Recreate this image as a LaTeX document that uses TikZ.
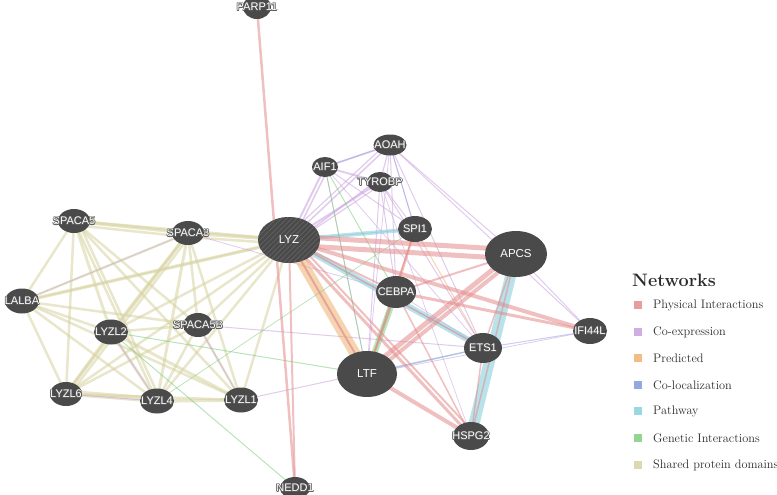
\documentclass[tikz,border=0pt]{standalone}
\usepackage{fontspec}
\newfontfamily\labfont{Liberation Sans}
\usetikzlibrary{shapes.geometric,backgrounds,patterns.meta}
\definecolor{nodefill}{HTML}{4A4A4A}
\definecolor{haloc}{HTML}{5C5C5C}
\definecolor{cphys}{HTML}{E48C8C}
\definecolor{ccoex}{HTML}{C8A0DC}
\definecolor{cpred}{HTML}{F0B070}
\definecolor{ccoloc}{HTML}{8098DC}
\definecolor{cpath}{HTML}{88D0DC}
\definecolor{cgen}{HTML}{80CC80}
\definecolor{cshared}{HTML}{D6D2A0}
\definecolor{legtxt}{HTML}{2A2A2A}
\newcommand\halotxt[1]{%
  \makebox[0pt]{%
    \rlap{\color{haloc}\kern-0.7pt#1}%
    \rlap{\color{haloc}\kern0.7pt#1}%
    \rlap{\color{haloc}\raisebox{0.7pt}{#1}}%
    \rlap{\color{haloc}\raisebox{-0.7pt}{#1}}%
    \rlap{\color{haloc}\kern-0.5pt\raisebox{0.5pt}{#1}}%
    \rlap{\color{haloc}\kern0.5pt\raisebox{0.5pt}{#1}}%
    \rlap{\color{haloc}\kern-0.5pt\raisebox{-0.5pt}{#1}}%
    \rlap{\color{haloc}\kern0.5pt\raisebox{-0.5pt}{#1}}%
    \color{white}#1}}
\newcommand\plaintxt[1]{\makebox[0pt]{#1}}
\tikzset{
  gnode/.style={ellipse, fill=nodefill, inner sep=0pt, text=white,
    font=\labfont\fontsize{11}{11}\selectfont},
  bignode/.style={gnode, font=\labfont\fontsize{11.5}{11.5}\selectfont},
  phys/.style={draw=cphys, draw opacity=0.55},
  coex/.style={draw=ccoex, draw opacity=0.55},
  pred/.style={draw=cpred, draw opacity=0.55},
  coloc/.style={draw=ccoloc, draw opacity=0.45},
  pathw/.style={draw=cpath, draw opacity=0.6},
  gen/.style={draw=cgen, draw opacity=0.55},
  shared/.style={draw=cshared, draw opacity=0.55},
  swatch/.style={minimum size=8pt, inner sep=0pt},
  legtext/.style={anchor=west, inner sep=0pt, text=legtxt, font=\fontsize{12.3}{13}\selectfont},
}
\begin{document}
\begin{tikzpicture}[x=1pt,y=-1pt]
\useasboundingbox (0,0) rectangle (777,495);
% nodes
\node[gnode, minimum width=28pt, minimum height=24pt] (PARP11) at (257,7) {\halotxt{PARP11}};
\node[gnode, minimum width=33pt, minimum height=21pt] (AOAH) at (390,145) {\halotxt{AOAH}};
\node[gnode, minimum width=26pt, minimum height=20pt] (AIF1) at (325,167) {\halotxt{AIF1}};
\node[gnode, minimum width=26pt, minimum height=20pt] (TYROBP) at (380,182) {\halotxt{TYROBP}};
\node[gnode, minimum width=34pt, minimum height=26pt] (SPI1) at (415,229) {\halotxt{SPI1}};
\node[bignode, minimum width=62pt, minimum height=46pt,
  preaction={fill=nodefill}, pattern={Lines[angle=45,distance=3.6pt,line width=0.9pt]},
  pattern color=gray!75!black] (LYZ) at (289,240) {\plaintxt{LYZ}};
\node[bignode, minimum width=62pt, minimum height=46pt] (APCS) at (516,254) {\plaintxt{APCS}};
\node[gnode, minimum width=40pt, minimum height=32pt] (CEBPA) at (396,292) {\halotxt{CEBPA}};
\node[gnode, minimum width=38pt, minimum height=30pt] (ETS1) at (483,348) {\halotxt{ETS1}};
\node[gnode, minimum width=34pt, minimum height=26pt] (IFI44L) at (590,331) {\halotxt{IFI44L}};
\node[bignode, minimum width=60pt, minimum height=46pt] (LTF) at (367,374) {\plaintxt{LTF}};
\node[gnode, minimum width=36pt, minimum height=28pt] (HSPG2) at (471,436) {\halotxt{HSPG2}};
\node[gnode, minimum width=30pt, minimum height=22pt] (NEDD1) at (295,488) {\halotxt{NEDD1}};
\node[gnode, minimum width=32pt, minimum height=24pt] (SPACA5) at (74,221) {\halotxt{SPACA5}};
\node[gnode, minimum width=32pt, minimum height=24pt] (SPACA3) at (188,233) {\halotxt{SPACA3}};
\node[gnode, minimum width=34pt, minimum height=25pt] (LALBA) at (22,301) {\halotxt{LALBA}};
\node[gnode, minimum width=34pt, minimum height=25pt] (LYZL2) at (111,332) {\halotxt{LYZL2}};
\node[gnode, minimum width=30pt, minimum height=24pt] (SPACA5B) at (198,325) {\halotxt{SPACA5B}};
\node[gnode, minimum width=32pt, minimum height=24pt] (LYZL6) at (66,394) {\halotxt{LYZL6}};
\node[gnode, minimum width=34pt, minimum height=25pt] (LYZL4) at (157,401) {\halotxt{LYZL4}};
\node[gnode, minimum width=34pt, minimum height=25pt] (LYZL1) at (241,400) {\halotxt{LYZL1}};
% edges
\begin{scope}[on background layer]
\foreach \a/\b/\w in {SPACA5/SPACA3/3.5, SPACA5/LALBA/2.5, SPACA5/LYZL2/3, SPACA5/SPACA5B/2.5,
  SPACA5/LYZL6/2.5, SPACA5/LYZL4/2.5, SPACA5/LYZL1/2.5, SPACA5/LYZ/3,
  SPACA3/LALBA/2.5, SPACA3/LYZL2/3, SPACA3/SPACA5B/2.5, SPACA3/LYZL6/3, SPACA3/LYZL4/3,
  SPACA3/LYZL1/2.5, SPACA3/LYZ/3.5,
  LALBA/LYZL2/2.5, LALBA/SPACA5B/2.5, LALBA/LYZL6/2.5, LALBA/LYZL4/2.5, LALBA/LYZL1/2.5, LALBA/LYZ/2.5,
  LYZL2/SPACA5B/2.5, LYZL2/LYZL6/3, LYZL2/LYZL4/3, LYZL2/LYZL1/3, LYZL2/LYZ/2.5,
  SPACA5B/LYZL6/2.5, SPACA5B/LYZL4/2.5, SPACA5B/LYZL1/2.5, SPACA5B/LYZ/2.5,
  LYZL6/LYZL4/3.5, LYZL6/LYZL1/2.5, LYZL6/LYZ/2.5, LYZL4/LYZL1/3.5, LYZL4/LYZ/2.5, LYZL1/LYZ/2.5}
  \draw[shared, line width=\w pt] (\a.center) -- (\b.center);
\draw[shared, line width=2.5pt] ([yshift=-4pt]SPACA5.center) -- ([yshift=-4pt]SPACA3.center);
\draw[shared, line width=2.5pt] ([yshift=-4pt]SPACA3.center) -- ([yshift=-4pt]LYZ.center);
\draw[shared, line width=2.5pt] ([yshift=3pt]LYZL6.center) -- ([yshift=3pt]LYZL4.center);
\draw[shared, line width=2.5pt] ([xshift=4pt]LALBA.center) -- ([xshift=4pt]LYZ.center);
\draw[shared, line width=2.5pt] ([xshift=4pt]LYZL6.center) -- ([xshift=4pt]SPACA3.center);
\draw[shared, line width=2.5pt] ([xshift=4pt]LYZL4.center) -- ([xshift=4pt]SPACA5.center);
% co-expression
\foreach \a/\b/\w in {AIF1/AOAH/1.8, AIF1/TYROBP/1.8, AOAH/TYROBP/1.2, AIF1/LYZ/2, AOAH/LYZ/1.5,
  TYROBP/LYZ/2, AOAH/SPI1/1, TYROBP/SPI1/1, AIF1/SPI1/1, AOAH/CEBPA/1, TYROBP/CEBPA/1,
  AOAH/APCS/1, AOAH/IFI44L/1, TYROBP/ETS1/1, AOAH/ETS1/1, TYROBP/LTF/1, AIF1/ETS1/0.8,
  APCS/IFI44L/1, LTF/ETS1/1, CEBPA/ETS1/0.8, LALBA/SPACA3/0.8, SPACA3/CEBPA/0.8,
  LYZL6/LYZL4/1, LYZL1/ETS1/1, SPACA5B/ETS1/1, SPACA5B/LYZL1/1, LYZL2/LYZL4/1, LTF/IFI44L/0.8,
  AIF1/LTF/0.8, AOAH/LTF/0.8, LYZ/SPI1/1, LYZ/ETS1/0.8, TYROBP/HSPG2/0.7}
  \draw[coex, line width=\w pt] (\a.center) -- (\b.center);
\draw[coex, line width=1.5pt] ([xshift=4pt]AIF1.center) -- ([xshift=4pt]LYZ.center);
\draw[coex, line width=1.5pt] ([xshift=-5pt]TYROBP.center) -- ([xshift=8pt]LYZ.center);
\draw[coex, line width=1.2pt] ([xshift=5pt]TYROBP.center) -- ([yshift=-6pt]LYZ.center);
\draw[coex, line width=1.2pt] ([xshift=-5pt]AOAH.center) -- ([xshift=-6pt]LYZ.center);
% co-localization
\foreach \a/\b/\w in {AIF1/AOAH/0.8, AOAH/SPI1/0.8, LYZ/LTF/1, ETS1/IFI44L/1, LTF/CEBPA/0.8}
  \draw[coloc, line width=\w pt] (\a.center) -- (\b.center);
% predicted
\draw[pred, line width=11pt] (LYZ.center) -- (LTF.center);
\foreach \a/\b/\w in {SPI1/LTF/1, SPI1/ETS1/1}
  \draw[pred, line width=\w pt] (\a.center) -- (\b.center);
% pathway
\foreach \a/\b/\w in {LYZ/SPI1/4, LYZ/ETS1/6, APCS/HSPG2/11, LTF/ETS1/1.2}
  \draw[pathw, line width=\w pt] (\a.center) -- (\b.center);
% genetic
\draw[gen, line width=6pt] (CEBPA.center) -- (LTF.center);
\foreach \a/\b/\w in {AIF1/LTF/1, AIF1/CEBPA/1, LYZL2/LTF/1, LYZL2/NEDD1/1, LYZL4/SPI1/0.8}
  \draw[gen, line width=\w pt] (\a.center) -- (\b.center);
% physical
\foreach \a/\b/\w in {PARP11/NEDD1/2.5, LYZ/NEDD1/2, LYZ/IFI44L/4, LYZ/HSPG2/3, LYZ/LTF/2,
  LYZ/CEBPA/2, LYZ/ETS1/1.5, APCS/CEBPA/2, APCS/ETS1/1.5, APCS/HSPG2/1.5, LTF/HSPG2/4,
  CEBPA/SPI1/2, CEBPA/LTF/2, CEBPA/IFI44L/3, ETS1/HSPG2/1.5, SPI1/LTF/1.5, CEBPA/HSPG2/1.5}
  \draw[phys, line width=\w pt] (\a.center) -- (\b.center);
\draw[phys, line width=5pt] ([yshift=-5pt]LYZ.center) -- ([yshift=-5pt]APCS.center);
\draw[phys, line width=5pt] ([yshift=4pt]LYZ.center) -- ([yshift=4pt]APCS.center);
\draw[phys, line width=5pt] ([xshift=-4pt]APCS.center) -- ([xshift=-4pt]LTF.center);
\draw[phys, line width=4pt] ([xshift=5pt]APCS.center) -- ([xshift=5pt]LTF.center);
\draw[phys, line width=2pt] ([xshift=6pt]LYZ.center) -- ([xshift=6pt]HSPG2.center);
\end{scope}
% legend
\node[anchor=west, inner sep=0pt, text=legtxt, font=\fontsize{18}{18}\selectfont\bfseries] (legtitle) at (632,280) {Networks};
\node[swatch, fill=cphys!85] (sw1) at (638,305) {};
\node[swatch, fill=ccoex!85] (sw2) at (638,332) {};
\node[swatch, fill=cpred!85] (sw3) at (638,358) {};
\node[swatch, fill=ccoloc!85] (sw4) at (638,385) {};
\node[swatch, fill=cpath!85] (sw5) at (638,411) {};
\node[swatch, fill=cgen!85] (sw6) at (638,438) {};
\node[swatch, fill=cshared!85] (sw7) at (638,465) {};
\node[legtext] (lt1) at (653,305) {Physical Interactions};
\node[legtext] (lt2) at (653,332) {Co-expression};
\node[legtext] (lt3) at (653,358) {Predicted};
\node[legtext] (lt4) at (653,385) {Co-localization};
\node[legtext] (lt5) at (653,411) {Pathway};
\node[legtext] (lt6) at (653,438) {Genetic Interactions};
\node[legtext] (lt7) at (653,465) {Shared protein domains};
\end{tikzpicture}
\end{document}
